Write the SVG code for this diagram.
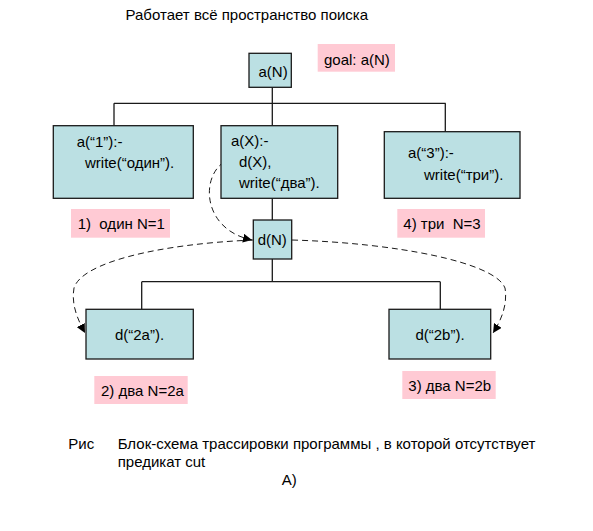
<svg xmlns="http://www.w3.org/2000/svg" width="593" height="531" viewBox="0 0 593 531">
<style>
text{font-family:"Liberation Sans",Arial,sans-serif;font-size:15px;fill:#000}
.box{fill:#bbe0e3;stroke:#1a1a1a;stroke-width:1.3}
.lbl{fill:#ffcad4;stroke:none}
.ln{fill:none;stroke:#1a1a1a;stroke-width:1.3}
.dash{fill:none;stroke:#1a1a1a;stroke-width:1;stroke-dasharray:6,4}
</style>
<defs>
<marker id="ah" viewBox="0 0 10 10" refX="10" refY="5" markerWidth="9" markerHeight="9" markerUnits="userSpaceOnUse" orient="auto">
<path d="M0,0 L10,5 L0,10 z" fill="#000"/>
</marker>
</defs>
<rect width="593" height="531" fill="#fff"/>
<text x="125.5" y="20">Работает всё пространство поиска</text>
<g id="connectors">
<path class="ln" d="M272.3,87 V103.3 M114,103.3 H445.7 M114,103.3 V125.7 M272.3,103.3 V125.7 M445.3,103.3 V131.7 M272.3,198.3 V220 M272.3,259 V281.7 M141.7,281.7 H440.3 M141.7,281.7 V309.3 M440.3,281.7 V309.3"/>
<path class="dash" d="M224,162 C200,178 203,230 252,240" marker-end="url(#ah)"/>
<path class="dash" d="M253,240 C160,244 82,262 74,288 C71,305 78,320 85,333" marker-end="url(#ah)"/>
<path class="dash" d="M292,240 C395,243 495,262 505,288 C508,306 500,322 493,333" marker-end="url(#ah)"/>
</g>
<g id="goal">
<rect class="lbl" x="317.7" y="44" width="77.3" height="27.7"/>
<text x="324" y="65">goal: a(N)</text>
</g>
<g id="aN">
<rect class="box" x="249" y="53.3" width="42.3" height="34"/>
<text x="258.5" y="77">a(N)</text>
</g>
<g id="a1">
<rect class="box" x="53.3" y="125.7" width="140" height="72.6"/>
<text x="76.7" y="147">a(“1”):-</text>
<text x="85" y="168">write(“один”).</text>
</g>
<g id="aX">
<rect class="box" x="221" y="125.7" width="116.7" height="72.6"/>
<text x="231" y="146">a(X):-</text>
<text x="239" y="167">d(X),</text>
<text x="239" y="188">write(“два”).</text>
</g>
<g id="a3">
<rect class="box" x="384.3" y="131.7" width="135.7" height="66.6"/>
<text x="408" y="158">a(“3”):-</text>
<text x="424" y="180">write(“три”).</text>
</g>
<g id="lbl1">
<rect class="lbl" x="71" y="209" width="99" height="28.7"/>
<text x="77.7" y="229" xml:space="preserve">1)  один N=1</text>
</g>
<g id="lbl4">
<rect class="lbl" x="397.3" y="209" width="87.7" height="28.7"/>
<text x="403.3" y="229" xml:space="preserve">4) три  N=3</text>
</g>
<g id="dN">
<rect class="box" x="253.3" y="220" width="38.4" height="39"/>
<text x="272.3" y="245" text-anchor="middle">d(N)</text>
</g>
<g id="d2a">
<rect class="box" x="86" y="309.3" width="107.3" height="49.7"/>
<text x="139.5" y="340" text-anchor="middle">d(“2a”).</text>
</g>
<g id="d2b">
<rect class="box" x="389" y="309.3" width="101.7" height="49.7"/>
<text x="440" y="340" text-anchor="middle">d(“2b”).</text>
</g>
<g id="lbl2">
<rect class="lbl" x="94.3" y="376" width="93.4" height="28"/>
<text x="101" y="395.5">2) два N=2a</text>
</g>
<g id="lbl3">
<rect class="lbl" x="402.3" y="371" width="93.4" height="28"/>
<text x="408.3" y="390.5">3) два N=2b</text>
</g>
<text x="68.3" y="449">Рис</text>
<text x="117.7" y="449">Блок-схема трассировки программы , в которой отсутствует</text>
<text x="117.7" y="467">предикат cut</text>
<text x="281.7" y="485">A)</text>
</svg>
